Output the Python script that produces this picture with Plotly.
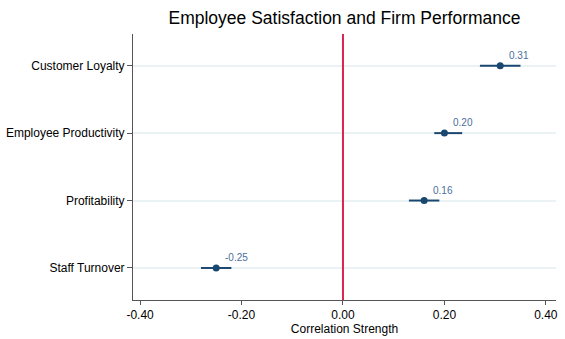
import plotly.graph_objects as go

categories = ["Staff Turnover", "Profitability", "Employee Productivity", "Customer Loyalty"]
estimates = [-0.25, 0.16, 0.20, 0.31]
ci_low = [-0.28, 0.13, 0.18, 0.27]
ci_high = [-0.22, 0.19, 0.235, 0.35]
x_ticks = [-0.4, -0.2, 0.0, 0.2, 0.4]
x_tick_labels = ["-0.40", "-0.20", "0.00", "0.20", "0.40"]

navy = "#1a476f"
font = "Liberation Sans, Arial, sans-serif"

ypos = list(range(len(categories)))

fig = go.Figure()
fig.add_trace(go.Scatter(
    x=estimates, y=ypos, mode="markers",
    marker=dict(color=navy, size=7),
    error_x=dict(type="data", symmetric=False,
                 array=[h - e for h, e in zip(ci_high, estimates)],
                 arrayminus=[e - l for e, l in zip(estimates, ci_low)],
                 color=navy, thickness=2, width=0),
    showlegend=False, hoverinfo="skip",
))

for e, y in zip(estimates, ypos):
    fig.add_annotation(x=e, y=y, text=f"{e:.2f}", showarrow=False,
                       xanchor="left", yanchor="bottom", xshift=7, yshift=3,
                       font=dict(family=font, size=10, color="#4a6f9a"))

fig.add_shape(type="line", xref="x", yref="paper", x0=0, x1=0, y0=0, y1=1,
              line=dict(color="#d7264f", width=2))

fig.update_layout(
    width=565, height=339,
    margin=dict(l=133, r=9, t=34, b=39, autoexpand=False),
    paper_bgcolor="white", plot_bgcolor="white",
    font=dict(family=font, color="black", size=12),
    title=dict(text="Employee Satisfaction and Firm Performance",
               x=(133 + 556) / 2 / 565, xanchor="center", y=1 - 18 / 339, yanchor="middle",
               font=dict(family=font, size=17.5, color="black")),
)
fig.update_xaxes(range=[-0.414, 0.42], tickvals=x_ticks, ticktext=x_tick_labels,
                 showgrid=False, zeroline=False, showline=True, linecolor="#555555",
                 linewidth=1, ticks="outside", ticklen=4, tickcolor="#555555",
                 automargin=False,
                 title=dict(text="Correlation Strength", standoff=0, font=dict(size=12)),
                 tickfont=dict(size=12))
fig.update_yaxes(range=[-0.475, 3.47], tickvals=ypos, ticktext=categories,
                 showgrid=True, gridcolor="#eaf2f3", gridwidth=2, zeroline=False,
                 showline=True, linecolor="#555555", linewidth=1,
                 ticks="outside", ticklen=5, tickcolor="#555555",
                 automargin=False,
                 tickfont=dict(size=12))

fig.write_html("out.html")
